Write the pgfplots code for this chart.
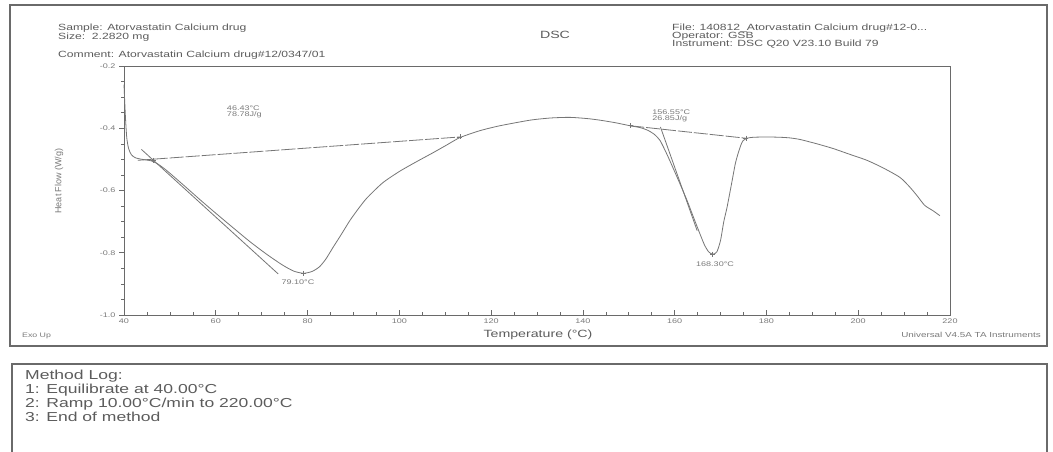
\documentclass[border=0pt]{standalone}
\usepackage{pgfplots}
\pgfplotsset{compat=1.18}
\usepackage{fontspec}
\setmainfont{Liberation Sans}[FakeStretch=1.35]
\newfontfamily\plainfont{Liberation Sans}
\definecolor{ink}{HTML}{5C5C5C}
\definecolor{softink}{HTML}{7A7A7A}
\definecolor{trace}{HTML}{767676}
\definecolor{boxline}{HTML}{6A6A6A}

% Heat flow trace (Temperature in degC, heat flow in W/g)
\pgfplotstableread{
T q
40.0 -0.26
40.3 -0.36
40.6 -0.43
41.0 -0.465
41.6 -0.485
42.5 -0.495
44.0 -0.500
46.0 -0.505
47.5 -0.516
49.4 -0.537
53.0 -0.583
56.6 -0.630
60.0 -0.673
63.8 -0.720
67.5 -0.765
71.2 -0.806
74.6 -0.840
77.0 -0.859
79.1 -0.866
81.0 -0.860
82.6 -0.845
84.0 -0.820
85.5 -0.784
87.4 -0.740
89.2 -0.697
91.1 -0.658
93.0 -0.623
96.4 -0.575
100.1 -0.538
103.8 -0.507
107.3 -0.479
110.3 -0.454
113.2 -0.430
117.5 -0.408
121.9 -0.392
128.5 -0.374
133.0 -0.367
137.2 -0.365
141.0 -0.369
143.7 -0.374
147.0 -0.382
150.3 -0.392
152.5 -0.398
154.2 -0.407
155.6 -0.420
156.8 -0.439
158.2 -0.480
159.6 -0.526
161.2 -0.580
162.7 -0.632
164.1 -0.686
165.5 -0.739
166.5 -0.775
167.4 -0.797
168.3 -0.805
169.2 -0.797
170.0 -0.760
170.7 -0.700
171.4 -0.655
172.4 -0.578
173.2 -0.515
173.8 -0.482
174.4 -0.455
174.9 -0.440
175.8 -0.432
177.1 -0.429
180.1 -0.428
183.0 -0.429
185.1 -0.431
187.3 -0.436
191.0 -0.450
194.5 -0.465
198.0 -0.483
201.9 -0.503
205.5 -0.528
209.1 -0.558
211.3 -0.590
213.0 -0.620
214.5 -0.648
216.3 -0.665
217.8 -0.681
}\heatflow

\begin{document}
\begin{tikzpicture}
\useasboundingbox (0pt,0pt) rectangle (1053pt,-452pt);
\fill[white] (0pt,0pt) rectangle (1053pt,-452pt);

% report frames
\draw[boxline, line width=1.6pt] (10pt,-5pt) rectangle (1047pt,-346pt);
\draw[boxline, line width=1.2pt] (12pt,-364pt) rectangle (1047pt,-470pt);

% header
\begin{scope}[every node/.style={inner sep=0pt, anchor=base west, text=ink, font=\fontsize{9}{10}\selectfont}]
\node at (58pt,-31pt) {Sample: Atorvastatin Calcium drug};
\node at (58pt,-40pt) {Size:\ \ 2.2820 mg};
\node at (58pt,-58pt) {Comment: Atorvastatin Calcium drug\#12/0347/01};
\node at (672pt,-31pt) {File: 140812\_Atorvastatin Calcium drug\#12-0...};
\node at (672pt,-39pt) {Operator: GSB};
\node at (672pt,-47pt) {Instrument: DSC Q20 V23.10 Build 79};
\end{scope}
\node[inner sep=0pt, anchor=base, text=ink, font=\fontsize{10.5}{12}\selectfont] at (555pt,-39pt) {DSC};

% method log
\begin{scope}[every node/.style={inner sep=0pt, anchor=base west, text=ink, font=\fontsize{13}{14}\selectfont}]
\node at (25pt,-379pt) {Method Log:};
\node at (25pt,-393pt) {1: Equilibrate at 40.00°C};
\node at (25pt,-407pt) {2: Ramp 10.00°C/min to 220.00°C};
\node at (25pt,-421pt) {3: End of method};
\end{scope}

\begin{axis}[
  at={(124pt,-315pt)}, anchor=south west,
  scale only axis, width=826pt, height=249pt,
  xmin=40, xmax=220, ymin=-1.0, ymax=-0.2,
  xtick={40,60,...,220},
  ytick={-1.0,-0.8,-0.6,-0.4,-0.2},
  minor x tick num=3, minor y tick num=3,
  xtick align=inside, ytick align=outside,
  major tick length=5pt, minor tick length=3pt,
  xtick pos=bottom, ytick pos=left,
  axis line style={boxline, line width=0.9pt},
  every tick/.style={boxline, line width=0.6pt},
  /pgf/number format/assume math mode=true,
  tick label style={text=softink, font=\fontsize{6.7}{8}\selectfont},
  yticklabel style={/pgf/number format/.cd, fixed, fixed zerofill, precision=1},
  xticklabel style={/pgf/number format/.cd, fixed, precision=0},
  clip=false,
]
% trace
\addplot[trace, line width=0.8pt, smooth, tension=0.4] table[x=T, y=q] {\heatflow};
% integration baselines
\addplot[trace, line width=0.8pt, dash pattern=on 14pt off 2pt] coordinates {(43.0,-0.503) (113.2,-0.428)};
\addplot[trace, line width=0.8pt, dash pattern=on 14pt off 2pt] coordinates {(150.3,-0.392) (175.5,-0.432)};
% onset tangents
\addplot[trace, line width=0.8pt] coordinates {(43.8,-0.468) (73.6,-0.868)};
\addplot[trace, line width=0.8pt] coordinates {(156.9,-0.396) (164.9,-0.729)};
% analysis markers
\addplot[trace, only marks, mark=+, mark size=2.5pt, line width=0.6pt] coordinates {
  (46.43,-0.503) (113.2,-0.428) (79.1,-0.866) (150.3,-0.392) (175.5,-0.432) (168.3,-0.805)};
% analysis results
\begin{scope}[every node/.style={inner sep=0pt, text=softink, font=\fontsize{6.7}{7}\selectfont}]
\node[anchor=west] at (axis cs:62.4,-0.336) {46.43°C};
\node[anchor=west] at (axis cs:62.4,-0.357) {78.78J/g};
\node at (axis cs:77.9,-0.896) {79.10°C};
\node[anchor=west] at (axis cs:155.1,-0.348) {156.55°C};
\node[anchor=west] at (axis cs:155.1,-0.368) {26.85J/g};
\node at (axis cs:168.8,-0.836) {168.30°C};
\end{scope}
\end{axis}

% axis titles and footer
\node[inner sep=0pt, rotate=90, text=softink, font=\plainfont\fontsize{9}{10}\selectfont] at (59pt,-181pt) {Heat Flow (W/g)};
\node[inner sep=0pt, anchor=base, text=ink, font=\fontsize{10.5}{12}\selectfont] at (538pt,-337pt) {Temperature (°C)};
\node[inner sep=0pt, anchor=base west, text=softink, font=\fontsize{6.5}{7}\selectfont] at (22pt,-337pt) {Exo Up};
\node[inner sep=0pt, anchor=base east, text=softink, font=\fontsize{7.3}{8}\selectfont] at (1041pt,-337pt) {Universal V4.5A TA Instruments};
\end{tikzpicture}
\end{document}
